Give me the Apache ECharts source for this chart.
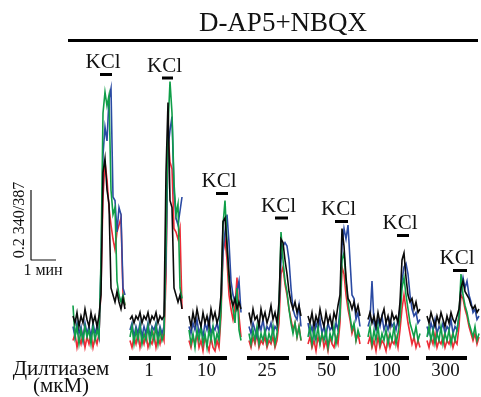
<!DOCTYPE html>
<html>
<head>
<meta charset="utf-8">
<script src="https://cdn.jsdelivr.net/npm/echarts@6/dist/echarts.min.js"></script>
<style>
  html, body { margin: 0; padding: 0; background: #fff; }
  #chart { width: 481px; height: 397px; }
</style>
</head>
<body>
<div id="chart"></div>
<script>
// время в минутах, отношение 340/387
const segStart = [2.68, 4.96, 7.32, 9.72, 12.08, 14.48, 16.84];
const step = 0.08;

const blackTraces = [
  [0.64,0.62,0.65,0.61,0.64,0.62,0.66,0.63,0.61,0.65,0.62,0.64,0.61,0.64,0.70,1.05,1.09,1.00,0.96,0.72,0.70,0.68,0.71,0.68,0.66,0.69,0.66],
  [0.63,0.64,0.62,0.64,0.63,0.65,0.62,0.64,0.63,0.65,0.62,0.64,0.63,0.65,0.62,0.64,0.63,0.64,1.05,1.25,0.97,0.95,0.72,0.70,0.68,0.70,0.66],
  [0.64,0.61,0.65,0.62,0.66,0.63,0.61,0.65,0.62,0.64,0.61,0.66,0.63,0.65,0.62,0.64,0.70,0.91,0.92,0.84,0.76,0.69,0.67,0.69,0.66,0.68,0.66],
  [0.65,0.62,0.66,0.63,0.64,0.61,0.66,0.63,0.65,0.62,0.64,0.67,0.63,0.65,0.62,0.68,0.86,0.85,0.80,0.76,0.71,0.68,0.66,0.68,0.65,0.67,0.64],
  [0.64,0.62,0.65,0.61,0.64,0.62,0.66,0.63,0.61,0.65,0.62,0.64,0.61,0.65,0.63,0.67,0.70,0.89,0.84,0.75,0.69,0.68,0.66,0.68,0.65,0.67,0.64],
  [0.63,0.65,0.62,0.64,0.61,0.65,0.62,0.64,0.66,0.62,0.64,0.61,0.65,0.63,0.64,0.62,0.68,0.80,0.82,0.75,0.70,0.68,0.69,0.66,0.68,0.65,0.66],
  [0.64,0.62,0.65,0.63,0.61,0.64,0.62,0.65,0.63,0.61,0.64,0.62,0.65,0.63,0.62,0.64,0.66,0.72,0.74,0.71,0.70,0.69,0.67,0.66,0.67,0.65,0.66]
];
const blueTraces = [
  [0.61,0.58,0.62,0.59,0.61,0.57,0.62,0.59,0.61,0.58,0.62,0.59,0.61,0.58,0.78,1.10,1.18,1.14,1.26,1.29,0.98,0.97,0.88,0.95,0.93,0.72,0.70],
  [0.60,0.62,0.58,0.61,0.59,0.62,0.58,0.61,0.59,0.62,0.58,0.61,0.60,0.62,0.58,0.61,0.59,0.61,0.80,1.12,1.17,1.21,1.00,0.92,0.90,0.94,0.98],
  [0.61,0.59,0.62,0.60,0.63,0.59,0.61,0.58,0.62,0.60,0.63,0.59,0.61,0.60,0.62,0.59,0.68,0.82,0.88,0.93,0.85,0.74,0.70,0.68,0.71,0.74,0.65],
  [0.61,0.59,0.62,0.60,0.58,0.62,0.60,0.63,0.59,0.61,0.60,0.62,0.59,0.61,0.60,0.66,0.80,0.84,0.85,0.84,0.80,0.72,0.66,0.64,0.63,0.67,0.61],
  [0.62,0.59,0.61,0.58,0.62,0.60,0.63,0.59,0.61,0.58,0.62,0.60,0.61,0.59,0.62,0.60,0.66,0.84,0.89,0.86,0.90,0.80,0.70,0.69,0.63,0.65,0.61],
  [0.61,0.63,0.74,0.62,0.60,0.63,0.61,0.64,0.60,0.62,0.60,0.63,0.61,0.62,0.60,0.63,0.66,0.74,0.78,0.79,0.76,0.70,0.66,0.64,0.65,0.62,0.63],
  [0.61,0.59,0.62,0.60,0.63,0.59,0.61,0.60,0.62,0.59,0.61,0.60,0.63,0.59,0.61,0.60,0.64,0.72,0.75,0.72,0.74,0.70,0.68,0.65,0.66,0.63,0.64]
];
const greenTraces = [
  [0.67,0.58,0.61,0.56,0.60,0.57,0.61,0.58,0.60,0.56,0.61,0.57,0.60,0.58,0.80,1.22,1.28,1.24,1.27,1.00,0.93,0.95,0.74,0.70,0.68,0.70,0.67],
  [0.58,0.61,0.56,0.60,0.57,0.61,0.56,0.59,0.57,0.61,0.56,0.60,0.57,0.61,0.56,0.60,0.57,0.59,0.85,1.18,1.31,1.22,1.02,0.93,0.96,0.72,0.69],
  [0.60,0.56,0.59,0.55,0.60,0.57,0.61,0.56,0.59,0.55,0.60,0.57,0.61,0.56,0.59,0.57,0.66,0.90,0.97,0.85,0.74,0.70,0.66,0.62,0.72,0.60,0.57],
  [0.59,0.56,0.60,0.57,0.61,0.56,0.59,0.57,0.60,0.56,0.59,0.57,0.61,0.56,0.59,0.66,0.88,0.80,0.74,0.71,0.66,0.62,0.59,0.62,0.58,0.61,0.57],
  [0.58,0.61,0.56,0.60,0.57,0.61,0.56,0.59,0.57,0.60,0.55,0.59,0.57,0.61,0.56,0.59,0.64,0.80,0.82,0.74,0.68,0.64,0.60,0.62,0.57,0.60,0.58],
  [0.58,0.61,0.56,0.60,0.57,0.61,0.56,0.59,0.57,0.60,0.56,0.59,0.57,0.61,0.56,0.59,0.63,0.72,0.75,0.70,0.66,0.62,0.60,0.58,0.61,0.57,0.59],
  [0.58,0.61,0.57,0.60,0.56,0.59,0.57,0.61,0.56,0.59,0.57,0.60,0.56,0.59,0.57,0.60,0.64,0.76,0.70,0.67,0.65,0.62,0.60,0.58,0.61,0.57,0.59]
];
const redTraces = [
  [0.57,0.59,0.55,0.58,0.56,0.59,0.55,0.58,0.56,0.59,0.55,0.58,0.56,0.59,0.72,0.98,1.08,1.03,0.95,0.90,0.86,0.83,0.88,0.90,0.92,0.70,0.67],
  [0.57,0.55,0.58,0.56,0.59,0.55,0.58,0.56,0.59,0.55,0.57,0.56,0.59,0.55,0.58,0.56,0.59,0.57,0.75,1.16,1.08,1.06,0.89,0.88,0.86,0.89,0.66],
  [0.57,0.55,0.58,0.56,0.59,0.55,0.57,0.54,0.58,0.56,0.54,0.58,0.55,0.54,0.57,0.55,0.64,0.82,0.86,0.80,0.70,0.66,0.63,0.67,0.75,0.64,0.58],
  [0.57,0.55,0.58,0.56,0.59,0.55,0.57,0.56,0.58,0.55,0.57,0.56,0.58,0.55,0.57,0.62,0.76,0.78,0.73,0.70,0.66,0.63,0.60,0.62,0.58,0.61,0.57],
  [0.56,0.58,0.55,0.57,0.54,0.58,0.56,0.59,0.55,0.57,0.54,0.58,0.56,0.55,0.58,0.56,0.62,0.78,0.76,0.70,0.66,0.63,0.59,0.61,0.57,0.59,0.56],
  [0.56,0.58,0.55,0.57,0.54,0.58,0.55,0.57,0.56,0.54,0.58,0.55,0.57,0.56,0.58,0.55,0.60,0.66,0.70,0.66,0.62,0.59,0.56,0.58,0.55,0.57,0.55],
  [0.57,0.55,0.58,0.56,0.59,0.55,0.57,0.56,0.58,0.55,0.57,0.56,0.58,0.55,0.57,0.56,0.61,0.70,0.69,0.66,0.64,0.61,0.59,0.57,0.59,0.56,0.58]
];

// KCl аппликации
const kclStart = [3.76, 6.24, 8.40, 10.76, 13.16, 15.64, 17.88];
const kclEnd = [4.24, 6.68, 8.88, 11.28, 13.68, 16.12, 18.44];
const kclLevel = [1.33, 1.32, 0.99, 0.92, 0.91, 0.87, 0.77];

// дилтиазем, мкМ
const diltLabels = ["1", "10", "25", "50", "100", "300"];
const diltStart = [4.92, 7.28, 9.64, 12.0, 14.4, 16.8];
const diltEnd = [6.6, 8.84, 11.32, 13.72, 16.12, 18.44];
const diltLevel = 0.52;

// масштаб: 1 мин, 0.2 ед.
const scaleX = [1, 2];
const scaleY = [0.8, 1.0];

const serif = '"Liberation Serif", "DejaVu Serif", serif';
const chart = echarts.init(document.getElementById("chart"));

function traceSeries(traces, color) {
  return traces.map(function (vals, s) {
    return {
      type: "line",
      showSymbol: false,
      silent: true,
      lineStyle: { color: color, width: 1.6, join: "miter" },
      data: vals.map(function (v, i) {
        return [segStart[s] + i * step, v];
      }),
    };
  });
}

let series = [];
series = series.concat(traceSeries(redTraces, "#ee2b36"));
series = series.concat(traceSeries(blueTraces, "#2a4aa3"));
series = series.concat(traceSeries(greenTraces, "#0f9e48"));
series = series.concat(traceSeries(blackTraces, "#0a0a0a"));

// метки KCl
series.push({
  type: "custom",
  silent: true,
  data: kclStart.map(function (s, i) {
    return [s, kclEnd[i], kclLevel[i]];
  }),
  renderItem: function (params, api) {
    const p0 = api.coord([api.value(0), api.value(2)]);
    const p1 = api.coord([api.value(1), api.value(2)]);
    return {
      type: "group",
      children: [
        {
          type: "rect",
          shape: { x: p0[0], y: p0[1] - 1.5, width: p1[0] - p0[0], height: 3 },
          style: { fill: "#000" },
        },
        {
          type: "text",
          style: {
            text: "KCl",
            x: (p0[0] + p1[0]) / 2 - 3,
            y: p0[1] - 12,
            textAlign: "center",
            textVerticalAlign: "middle",
            font: "21px " + serif,
            fill: "#111",
          },
        },
      ],
    };
  },
});

// полосы дилтиазема
series.push({
  type: "custom",
  silent: true,
  data: diltStart.map(function (s, i) {
    return [s, diltEnd[i], diltLevel, i];
  }),
  renderItem: function (params, api) {
    const p0 = api.coord([api.value(0), api.value(2)]);
    const p1 = api.coord([api.value(1), api.value(2)]);
    return {
      type: "group",
      children: [
        {
          type: "rect",
          shape: { x: p0[0], y: p0[1] - 2, width: p1[0] - p0[0], height: 4 },
          style: { fill: "#000" },
        },
        {
          type: "text",
          style: {
            text: diltLabels[api.value(3)],
            x: (p0[0] + p1[0]) / 2 - 1,
            y: p0[1] + 13,
            textAlign: "center",
            textVerticalAlign: "middle",
            font: "19px " + serif,
            fill: "#111",
          },
        },
      ],
    };
  },
});

// масштабная линейка
series.push({
  type: "line",
  showSymbol: false,
  silent: true,
  lineStyle: { color: "#111", width: 1.2 },
  data: [
    [scaleX[0], scaleY[1]],
    [scaleX[0], scaleY[0]],
    [scaleX[1], scaleY[0]],
  ],
});

chart.setOption({
  animation: false,
  backgroundColor: "#fff",
  grid: { left: 6, right: 0, top: 15, bottom: 11 },
  xAxis: { type: "value", min: 0, max: 19, show: false },
  yAxis: { type: "value", min: 0.44, max: 1.5, show: false },
  graphic: [
    {
      type: "text",
      x: 283,
      y: 24,
      style: {
        text: "D-AP5+NBQX",
        font: "27px " + serif,
        fill: "#111",
        textAlign: "center",
        textVerticalAlign: "middle",
      },
    },
    {
      type: "rect",
      shape: { x: 68, y: 39, width: 410, height: 3 },
      style: { fill: "#000" },
    },
    {
      type: "text",
      x: 20,
      y: 220,
      rotation: Math.PI / 2,
      style: {
        text: "0.2 340/387",
        font: "16px " + serif,
        fill: "#111",
        textAlign: "center",
        textVerticalAlign: "middle",
      },
    },
    {
      type: "text",
      x: 43,
      y: 271,
      style: {
        text: "1 мин",
        font: "16px " + serif,
        fill: "#111",
        textAlign: "center",
        textVerticalAlign: "middle",
      },
    },
    {
      type: "text",
      x: 61,
      y: 369,
      style: {
        text: "Дилтиазем",
        font: "21px " + serif,
        fill: "#111",
        textAlign: "center",
        textVerticalAlign: "middle",
      },
    },
    {
      type: "text",
      x: 61,
      y: 386,
      style: {
        text: "(мкМ)",
        font: "21px " + serif,
        fill: "#111",
        textAlign: "center",
        textVerticalAlign: "middle",
      },
    },
  ],
  series: series,
});
</script>
</body>
</html>
